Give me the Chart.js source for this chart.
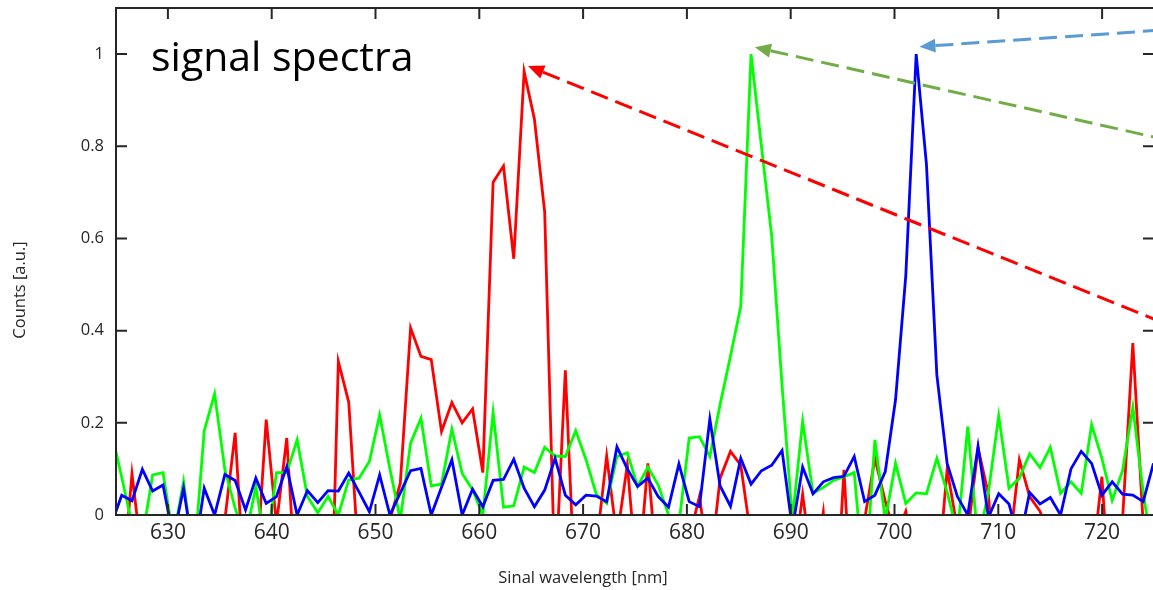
<!DOCTYPE html>
<html>
<head>
<meta charset="utf-8">
<script src="https://cdn.jsdelivr.net/npm/chart.js@4.4.1/dist/chart.umd.min.js"></script>
<style>
  html, body { margin: 0; padding: 0; background: #fff; overflow: hidden; }
  #wrap { width: 1153px; height: 590px; overflow: hidden; }
</style>
</head>
<body>
<div id="wrap"><canvas id="myChart" width="1160" height="590"></canvas></div>
<script>
// wavelength samples [nm]
const wavelength = [
  624.56, 625.55, 626.54, 627.54, 628.53, 629.53, 630.52, 631.51, 632.51, 633.50,
  634.50, 635.49, 636.48, 637.48, 638.47, 639.47, 640.46, 641.45, 642.45, 643.44,
  644.44, 645.43, 646.42, 647.42, 648.41, 649.41, 650.40, 651.39, 652.39, 653.38,
  654.38, 655.37, 656.36, 657.36, 658.35, 659.35, 660.34, 661.33, 662.33, 663.32,
  664.32, 665.31, 666.30, 667.30, 668.29, 669.29, 670.28, 671.27, 672.27, 673.26,
  674.26, 675.25, 676.24, 677.24, 678.23, 679.23, 680.22, 681.21, 682.21, 683.20,
  684.20, 685.19, 686.18, 687.18, 688.17, 689.17, 690.16, 691.15, 692.15, 693.14,
  694.14, 695.13, 696.12, 697.12, 698.11, 699.11, 700.10, 701.09, 702.09, 703.08,
  704.08, 705.07, 706.06, 707.06, 708.05, 709.05, 710.04, 711.03, 712.03, 713.02,
  714.02, 715.01, 716.00, 717.00, 717.99, 718.99, 719.98, 720.97, 721.97, 722.96,
  723.96, 724.95
];

// normalized counts (noise below zero is clipped by the axis)
const redCounts = [
  -0.1, -0.17, 0.089, -0.1, -0.15, -0.2, -0.1, -0.15, -0.2, -0.1,
  -0.15, -0.01, 0.178, -0.2, -0.14, 0.207, -0.02, 0.167, -0.2, -0.1,
  -0.15, -0.5, 0.333, 0.245, -0.11, -0.1, -0.15, -0.01, 0.069, 0.406,
  0.344, 0.337, 0.181, 0.244, 0.2, 0.23, 0.092, 0.722, 0.757, 0.556,
  0.962, 0.859, 0.657, -0.15, 0.314, -0.2, -0.15, -0.07, 0.128, -0.05,
  0.109, -0.15, 0.112, -0.15, -0.1, -0.2, -0.05, 0.04, -0.12, 0.08,
  0.138, 0.108, -0.05, -0.1, -0.15, -0.1, -0.13, 0.045, -0.13, 0.006,
  -0.3, 0.098, -0.3, -0.01, 0.123, 0.03, -0.05, 0.008, -0.1, -0.15,
  -0.16, 0.099, -0.03, -0.04, 0.145, 0.045, -0.25, -0.08, 0.12, 0.04,
  0.008, -0.05, -0.1, -0.15, -0.1, -0.12, 0.083, -0.25, -0.01, 0.373,
  -0.02, -0.1
];
const greenCounts = [
  0.18, 0.082, -0.02, -0.05, 0.087, 0.092, -0.05, 0.072, -0.1, 0.183,
  0.263, 0.098, 0.015, -0.05, 0.062, -0.08, 0.092, 0.092, 0.163, 0.04,
  0.005, 0.04, 0.0, 0.076, 0.08, 0.116, 0.217, 0.1, -0.01, 0.156,
  0.21, 0.063, 0.067, 0.186, 0.09, 0.055, 0.0, 0.222, 0.017, 0.02,
  0.104, 0.092, 0.147, 0.128, 0.127, 0.183, 0.12, 0.045, 0.025, 0.127,
  0.135, 0.062, 0.104, 0.065, 0.0, -0.02, 0.167, 0.17, 0.127, 0.24,
  0.345, 0.453, 1.0, 0.8, 0.605, 0.28, -0.01, 0.203, 0.047, 0.06,
  0.075, 0.083, 0.092, -0.16, 0.163, -0.01, 0.112, 0.025, 0.048, 0.046,
  0.123, 0.05, -0.04, 0.192, -0.06, 0.05, 0.215, 0.058, 0.08, 0.133,
  0.103, 0.147, 0.047, 0.072, 0.047, 0.196, 0.123, 0.032, 0.096, 0.234,
  0.05, -0.1
];
const blueCounts = [
  -0.02, 0.043, 0.031, 0.099, 0.052, 0.065, -0.05, 0.058, -0.09, 0.058,
  0.0, 0.088, 0.075, 0.011, 0.08, 0.025, 0.04, 0.105, 0.0, 0.053,
  0.027, 0.053, 0.052, 0.091, 0.05, 0.007, 0.087, 0.0, 0.048, 0.096,
  0.101, 0.0, 0.06, 0.12, 0.0, 0.056, 0.018, 0.075, 0.077, 0.121,
  0.058, 0.018, 0.054, 0.123, 0.043, 0.022, 0.043, 0.041, 0.029, 0.148,
  0.1, 0.062, 0.08, 0.04, 0.017, 0.111, 0.029, 0.018, 0.208, 0.063,
  0.019, 0.123, 0.067, 0.096, 0.108, 0.14, -0.03, 0.104, 0.046, 0.072,
  0.081, 0.084, 0.127, 0.029, 0.043, 0.094, 0.25, 0.52, 1.0, 0.76,
  0.304, 0.112, 0.04, 0.0, 0.149, -0.005, 0.046, 0.024, -0.06, 0.049,
  0.024, 0.038, 0.0, 0.1, 0.138, 0.112, 0.043, 0.072, 0.045, 0.043,
  0.029, 0.112
];

const xTicks = [630, 640, 650, 660, 670, 680, 690, 700, 710, 720];
const yTicks = [0, 0.2, 0.4, 0.6, 0.8, 1];

// dashed arrows pointing at the peaks: [fromX, fromY, tipX, tipY] (data units)
const arrowRed = [725, 0.425, 664.7, 0.974];
const arrowGreen = [725, 0.82, 686.55, 1.015];
const arrowBlue = [725, 1.051, 702.4, 1.016];

const axisColor = '#262626';
const tickFont = '"Open Sans", sans-serif';

function toPoints(vals) {
    return vals.map((v, i) => ({ x: wavelength[i], y: v }));
}

function drawArrow(ctx, xs, ys, arr, color, width) {
    let x0 = xs.getPixelForValue(arr[0]), y0 = ys.getPixelForValue(arr[1]);
    let x1 = xs.getPixelForValue(arr[2]), y1 = ys.getPixelForValue(arr[3]);
    let ang = Math.atan2(y0 - y1, x0 - x1);
    let headLen = 16, headW = 7;
    let bx = x1 + headLen * Math.cos(ang), by = y1 + headLen * Math.sin(ang);

    ctx.strokeStyle = color;
    ctx.fillStyle = color;
    ctx.lineWidth = width;
    //dash from arrow head outwards
    ctx.setLineDash([18, 8]);
    ctx.beginPath();
    ctx.moveTo(bx, by);
    ctx.lineTo(x0, y0);
    ctx.stroke();
    ctx.setLineDash([]);

    ctx.beginPath();
    ctx.moveTo(x1, y1);
    ctx.lineTo(bx + headW * Math.sin(ang), by - headW * Math.cos(ang));
    ctx.lineTo(bx - headW * Math.sin(ang), by + headW * Math.cos(ang));
    ctx.closePath();
    ctx.fill();
}

const framePlugin = {
    id: 'frame',
    afterDatasetsDraw(chart) {
        let ctx = chart.ctx, a = chart.chartArea;
        let xs = chart.scales.x, ys = chart.scales.y;
        ctx.save();

        //arrows
        drawArrow(ctx, xs, ys, arrowRed, '#ff0000', 3);
        drawArrow(ctx, xs, ys, arrowGreen, '#70ad47', 3);
        drawArrow(ctx, xs, ys, arrowBlue, '#5b9bd5', 3);

        //box + inward ticks
        ctx.strokeStyle = axisColor;
        ctx.lineWidth = 2;
        ctx.strokeRect(a.left, a.top, a.right - a.left, a.bottom - a.top);
        ctx.beginPath();
        xTicks.forEach(v => {
            let px = xs.getPixelForValue(v);
            ctx.moveTo(px, a.bottom); ctx.lineTo(px, a.bottom - 11);
            ctx.moveTo(px, a.top); ctx.lineTo(px, a.top + 11);
        });
        yTicks.forEach(v => {
            let py = ys.getPixelForValue(v);
            ctx.moveTo(a.left, py); ctx.lineTo(a.left + 11, py);
            ctx.moveTo(a.right, py); ctx.lineTo(a.right - 11, py);
        });
        ctx.stroke();

        //texts
        ctx.fillStyle = '#000';
        ctx.font = '41px "Open Sans", sans-serif';
        ctx.textAlign = 'left';
        ctx.textBaseline = 'alphabetic';
        ctx.fillText('signal spectra', 151, 71);

        ctx.fillStyle = axisColor;
        ctx.font = '16.5px "Open Sans", sans-serif';
        ctx.textAlign = 'center';
        ctx.textBaseline = 'middle';
        ctx.fillText('Sinal wavelength [nm]', 583, 578);

        ctx.translate(20, 290);
        ctx.rotate(-Math.PI / 2);
        ctx.fillText('Counts [a.u.]', 0, 0);
        ctx.restore();
    }
};

let ctx = document.getElementById('myChart').getContext('2d');
let chart = new Chart(ctx, {
    type: 'line',
    data: {
        datasets: [
            { label: 'blue', data: toPoints(blueCounts), borderColor: '#0000ff', order: 0 },
            { label: 'green', data: toPoints(greenCounts), borderColor: '#00ff00', order: 1 },
            { label: 'red', data: toPoints(redCounts), borderColor: '#ff0000', order: 2 }
        ]
    },
    options: {
        responsive: false,
        animation: false,
        layout: { padding: { top: 8, right: 6, left: 0, bottom: 0 } },
        elements: {
            line: { borderWidth: 2.8, tension: 0, fill: false },
            point: { radius: 0 }
        },
        datasets: { line: { clip: { left: 0, top: 0, right: 0, bottom: 1 } } },
        plugins: { legend: { display: false }, tooltip: { enabled: false } },
        scales: {
            x: {
                type: 'linear',
                min: 625,
                max: 725,
                grid: { display: false, drawTicks: false },
                border: { display: false },
                afterBuildTicks: s => { s.ticks = xTicks.map(v => ({ value: v })); },
                afterFit: s => { s.height = 75; s.paddingLeft = 0; s.paddingRight = 0; },
                ticks: {
                    color: axisColor,
                    padding: 5,
                    maxRotation: 0,
                    font: { family: tickFont, size: 21 }
                }
            },
            y: {
                min: 0,
                max: 1.1,
                grid: { display: false, drawTicks: false },
                border: { display: false },
                afterBuildTicks: s => { s.ticks = yTicks.map(v => ({ value: v })); },
                afterFit: s => { s.width = 116; s.paddingTop = 0; s.paddingBottom = 0; },
                ticks: {
                    color: axisColor,
                    padding: 12,
                    font: { family: tickFont, size: 16.5 },
                    callback: v => String(v)
                }
            }
        }
    },
    plugins: [framePlugin]
});
</script>
</body>
</html>
